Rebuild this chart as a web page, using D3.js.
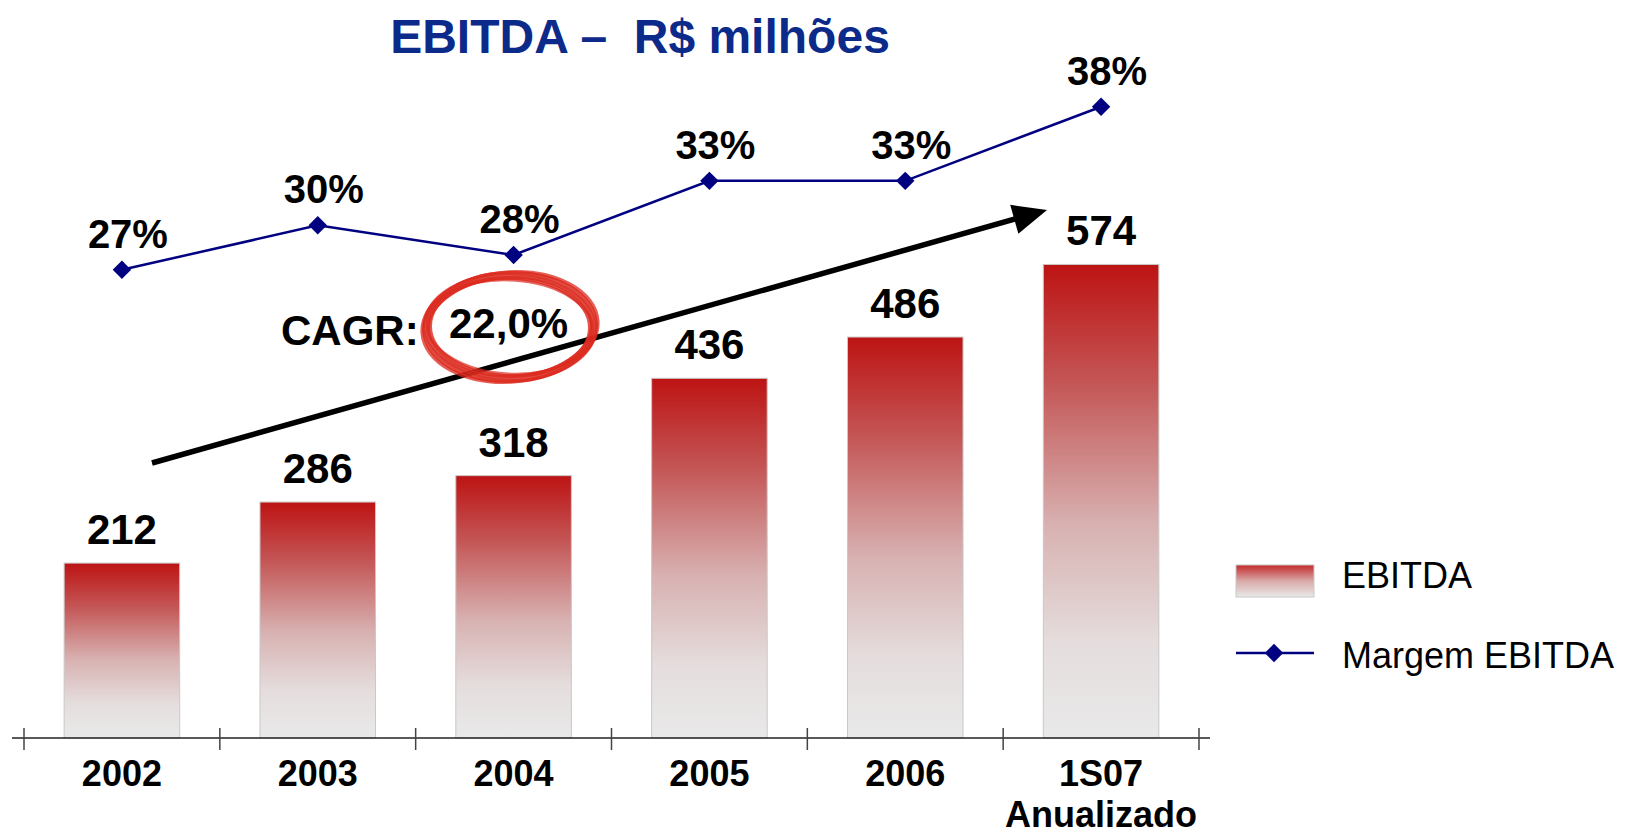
<!DOCTYPE html>
<html>
<head>
<meta charset="utf-8">
<script src="https://cdn.jsdelivr.net/npm/d3@7"></script>
<style>
  body { margin: 0; background: #fff; }
  svg { font-family: "Liberation Sans", Arial, sans-serif; }
</style>
</head>
<body>
<svg id="chart"></svg>
<script>
// Chart data
const categories = ["2002", "2003", "2004", "2005", "2006", "1S07 Anualizado"];
const ebitda = [212, 286, 318, 436, 486, 574];
const margin = [27, 30, 28, 33, 33, 38];
const marginLabels = ["27%", "30%", "28%", "33%", "33%", "38%"];
const cagrLabel = "22,0%";

const W = 1628, H = 834;
const baseY = 738;

const svg = d3.select("#chart")
  .attr("width", W)
  .attr("height", H);

// Scales
const x = d3.scaleBand()
  .domain(categories)
  .range([24, 1199])
  .paddingInner(0.41)
  .paddingOuter(0.205);

const y = d3.scaleLinear()
  .domain([0, 600])
  .range([baseY, 243]);

const y2 = d3.scaleLinear()
  .domain([0, 45])
  .range([670, 3]);

// Gradients for bars and legend
const defs = svg.append("defs");
const grad = defs.append("linearGradient")
  .attr("id", "barGrad")
  .attr("x1", 0).attr("y1", 0).attr("x2", 0).attr("y2", 1);
grad.append("stop").attr("offset", "0%").attr("stop-color", "#bd1313");
grad.append("stop").attr("offset", "25%").attr("stop-color", "#c45656");
grad.append("stop").attr("offset", "55%").attr("stop-color", "#d8b1b1");
grad.append("stop").attr("offset", "80%").attr("stop-color", "#e5dddd");
grad.append("stop").attr("offset", "100%").attr("stop-color", "#e9e9e9");

const legGrad = defs.append("linearGradient")
  .attr("id", "legGrad")
  .attr("x1", 0).attr("y1", 0).attr("x2", 0).attr("y2", 1);
legGrad.append("stop").attr("offset", "0%").attr("stop-color", "#c42a2a");
legGrad.append("stop").attr("offset", "50%").attr("stop-color", "#d9aaaa");
legGrad.append("stop").attr("offset", "100%").attr("stop-color", "#e9e9e9");

// Title
svg.append("text")
  .attr("x", 640)
  .attr("y", 53)
  .attr("text-anchor", "middle")
  .style("white-space", "pre")
  .style("font-size", "48px")
  .style("font-weight", "bold")
  .attr("fill", "#0c2a8a")
  .text("EBITDA –  R$ milhões");

// Bars
svg.selectAll(".bar")
  .data(categories)
  .enter()
  .append("rect")
  .attr("class", "bar")
  .attr("x", d => x(d))
  .attr("y", (d, i) => y(ebitda[i]))
  .attr("width", x.bandwidth())
  .attr("height", (d, i) => baseY - y(ebitda[i]))
  .attr("fill", "url(#barGrad)")
  .attr("stroke", "#c8c8c8")
  .attr("stroke-width", 1);

// Bar value labels
svg.selectAll(".val")
  .data(categories)
  .enter()
  .append("text")
  .attr("x", d => x(d) + x.bandwidth() / 2)
  .attr("y", (d, i) => y(ebitda[i]) - 19)
  .attr("text-anchor", "middle")
  .style("font-size", "42px")
  .style("font-weight", "bold")
  .attr("fill", "#000")
  .text((d, i) => ebitda[i]);

// Axis line with ticks at band boundaries
const step = x.step();
const x0 = x.range()[0];
svg.append("line")
  .attr("x1", 12).attr("x2", 1210)
  .attr("y1", baseY).attr("y2", baseY)
  .attr("stroke", "#222")
  .attr("stroke-width", 1.5);

svg.selectAll(".tick")
  .data(d3.range(categories.length + 1))
  .enter()
  .append("line")
  .attr("x1", i => x0 + i * step)
  .attr("x2", i => x0 + i * step)
  .attr("y1", baseY - 10)
  .attr("y2", baseY + 12)
  .attr("stroke", "#444")
  .attr("stroke-width", 1.5);

// Category labels (split into lines)
const catText = svg.selectAll(".cat")
  .data(categories)
  .enter()
  .append("text")
  .attr("text-anchor", "middle")
  .style("font-size", "36px")
  .style("font-weight", "bold")
  .attr("fill", "#000");

catText.each(function(d) {
  const parts = d.split(" ");
  const cx = x(d) + x.bandwidth() / 2;
  parts.forEach((p, j) => {
    d3.select(this).append("tspan")
      .attr("x", cx)
      .attr("y", 786 + j * 41)
      .text(p);
  });
});

// CAGR arrow
const ax1 = 152, ay1 = 463, ax2 = 1047, ay2 = 210;
const len = Math.hypot(ax2 - ax1, ay2 - ay1);
const ux = (ax2 - ax1) / len, uy = (ay2 - ay1) / len;
const headL = 34, headW = 15;
svg.append("line")
  .attr("x1", ax1).attr("y1", ay1)
  .attr("x2", ax2 - ux * headL * 0.8).attr("y2", ay2 - uy * headL * 0.8)
  .attr("stroke", "#000")
  .attr("stroke-width", 5.5);
svg.append("polygon")
  .attr("points", [
    [ax2, ay2],
    [ax2 - ux * headL - uy * headW, ay2 - uy * headL + ux * headW],
    [ax2 - ux * headL + uy * headW, ay2 - uy * headL - ux * headW]
  ].map(p => p.join(",")).join(" "))
  .attr("fill", "#000");

// Margin line
const line = d3.line()
  .x((d, i) => x(categories[i]) + x.bandwidth() / 2)
  .y(d => y2(d));

svg.append("path")
  .datum(margin)
  .attr("d", line)
  .attr("fill", "none")
  .attr("stroke", "#000080")
  .attr("stroke-width", 2.5);

const diamond = d3.symbol().type(d3.symbolSquare).size(170);

svg.selectAll(".mk")
  .data(margin)
  .enter()
  .append("path")
  .attr("d", diamond)
  .attr("transform", (d, i) => `translate(${x(categories[i]) + x.bandwidth() / 2},${y2(d)}) rotate(45)`)
  .attr("fill", "#000080");

svg.selectAll(".pct")
  .data(margin)
  .enter()
  .append("text")
  .attr("x", (d, i) => x(categories[i]) + x.bandwidth() / 2 + 6)
  .attr("y", d => y2(d) - 22)
  .attr("text-anchor", "middle")
  .style("font-size", "40px")
  .style("font-weight", "bold")
  .attr("fill", "#000")
  .text((d, i) => marginLabels[i]);

// CAGR annotation with hand-drawn red circle
const ring = svg.append("g").attr("transform", "translate(510,327)");
const strokes = [
  { rx: 84, ry: 52, rot: -2, w: 8, o: 0.85 },
  { rx: 80, ry: 49, rot: 1, w: 4, o: 0.8 },
  { rx: 88, ry: 55, rot: -4, w: 3.5, o: 0.75 },
  { rx: 83, ry: 47, rot: 3, w: 3, o: 0.7 },
  { rx: 86, ry: 53, rot: 2, w: 2, o: 0.6 }
];
strokes.forEach(s => {
  ring.append("ellipse")
    .attr("rx", s.rx).attr("ry", s.ry)
    .attr("transform", `rotate(${s.rot})`)
    .attr("fill", "none")
    .attr("stroke", "#dc2a1e")
    .attr("stroke-width", s.w)
    .attr("opacity", s.o);
});

svg.append("text")
  .attr("x", 281).attr("y", 345)
  .style("font-size", "42px")
  .style("font-weight", "bold")
  .text("CAGR:");

svg.append("text")
  .attr("x", 449).attr("y", 338)
  .style("font-size", "42px")
  .style("font-weight", "bold")
  .text(cagrLabel);

// Legend
const leg = svg.append("g");
leg.append("rect")
  .attr("x", 1236).attr("y", 565)
  .attr("width", 78).attr("height", 32)
  .attr("fill", "url(#legGrad)")
  .attr("stroke", "#c8c8c8");
leg.append("text")
  .attr("x", 1342).attr("y", 588)
  .style("font-size", "36px")
  .text("EBITDA");
leg.append("line")
  .attr("x1", 1236).attr("x2", 1314)
  .attr("y1", 653).attr("y2", 653)
  .attr("stroke", "#000080")
  .attr("stroke-width", 2.5);
leg.append("path")
  .attr("d", diamond)
  .attr("transform", "translate(1274,653) rotate(45)")
  .attr("fill", "#000080");
leg.append("text")
  .attr("x", 1342).attr("y", 668)
  .style("font-size", "36px")
  .text("Margem EBITDA");
</script>
</body>
</html>
